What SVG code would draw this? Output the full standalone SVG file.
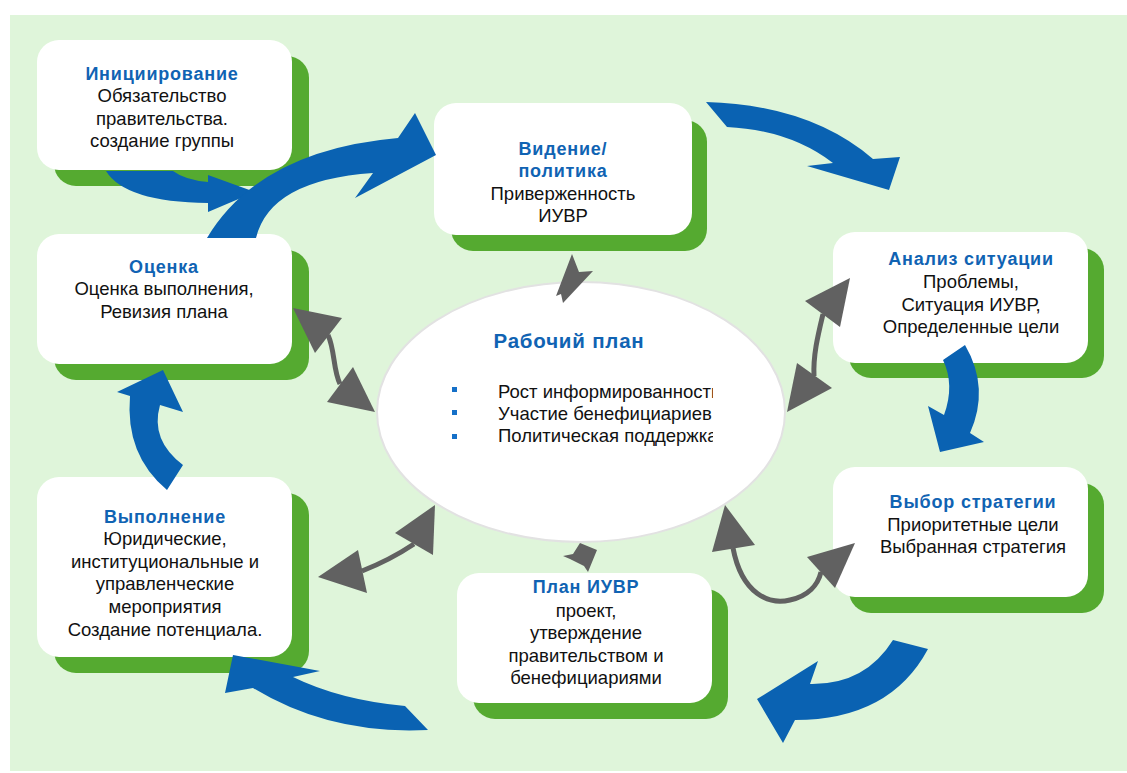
<svg xmlns="http://www.w3.org/2000/svg" width="1127" height="773" viewBox="0 0 1127 773">
<defs>
<style>
.sh{fill:#55AA30}
.bx{fill:#FFFFFF}
.t{font-family:"Liberation Sans","DejaVu Sans",sans-serif;font-size:18.5px;fill:#111111;text-anchor:middle}
.h{font-weight:bold;fill:#1063B3;letter-spacing:0.8px;font-size:18px}
.ba{fill:#0A62B2}
.gh{fill:#616161}
.gs{fill:none;stroke:#616161;stroke-width:5}
.bl{fill:#1570C8}
</style>
<clipPath id="ec"><rect x="370" y="370" width="343" height="90"/></clipPath>
</defs>
<rect x="10" y="15" width="1117" height="756" fill="#DFF5DA"/>
<g id="workplan">
<ellipse cx="581" cy="412" rx="204" ry="130" fill="#FFFFFF" stroke="#E2E2E2" stroke-width="2"/>
<text class="t h" x="569" y="348" style="font-size:20.5px">Рабочий план</text>
<rect class="bl" x="452" y="387" width="5" height="5"/>
<rect class="bl" x="452" y="410" width="5" height="5"/>
<rect class="bl" x="452" y="434" width="5" height="5"/>
<g clip-path="url(#ec)">
<text class="t" x="498" y="398" style="text-anchor:start">Рост информированности</text>
<text class="t" x="498" y="420" style="text-anchor:start">Участие бенефициариев</text>
<text class="t" x="498" y="442" style="text-anchor:start">Политическая поддержка</text>
</g>
</g>
<g id="init">
<rect class="sh" x="54" y="56" width="255" height="130" rx="22"/>
<rect class="bx" x="37" y="40" width="255" height="130" rx="22"/>
<text class="t h" x="162" y="80">Инициирование</text>
<text class="t" x="162" y="102">Обязательство</text>
<text class="t" x="162" y="125">правительства.</text>
<text class="t" x="162" y="147">создание группы</text>
</g>
<g id="vision">
<rect class="sh" x="451" y="120" width="256" height="131" rx="22"/>
<rect class="bx" x="434" y="103" width="258" height="132" rx="22"/>
<text class="t h" x="563" y="155">Видение/</text>
<text class="t h" x="563" y="177">политика</text>
<text class="t" x="563" y="200">Приверженность</text>
<text class="t" x="563" y="222">ИУВР</text>
</g>
<g id="analysis">
<rect class="sh" x="849" y="248" width="255" height="130" rx="22"/>
<rect class="bx" x="833" y="232" width="255" height="131" rx="22"/>
<text class="t h" x="971" y="265">Анализ ситуации</text>
<text class="t" x="971" y="288">Проблемы,</text>
<text class="t" x="971" y="311">Ситуация ИУВР,</text>
<text class="t" x="971" y="333">Определенные цели</text>
</g>
<g id="evaluation">
<rect class="sh" x="54" y="250" width="255" height="130" rx="22"/>
<rect class="bx" x="37" y="234" width="255" height="130" rx="22"/>
<text class="t h" x="164" y="273">Оценка</text>
<text class="t" x="164" y="295">Оценка выполнения,</text>
<text class="t" x="164" y="318">Ревизия плана</text>
</g>
<g id="strategy">
<rect class="sh" x="849" y="483" width="255" height="130" rx="22"/>
<rect class="bx" x="833" y="467" width="255" height="130" rx="22"/>
<text class="t h" x="973" y="508">Выбор стратегии</text>
<text class="t" x="973" y="531">Приоритетные цели</text>
<text class="t" x="973" y="553">Выбранная стратегия</text>
</g>
<g id="execution">
<rect class="sh" x="54" y="493" width="255" height="180" rx="22"/>
<rect class="bx" x="37" y="477" width="255" height="180" rx="22"/>
<text class="t h" x="165" y="523">Выполнение</text>
<text class="t" x="165" y="545">Юридические,</text>
<text class="t" x="165" y="568">институциональные и</text>
<text class="t" x="165" y="590">управленческие</text>
<text class="t" x="165" y="613">мероприятия</text>
<text class="t" x="165" y="636">Создание потенциала.</text>
</g>
<g id="iwrm-plan">
<rect class="sh" x="473" y="589" width="255" height="130" rx="22"/>
<rect class="bx" x="457" y="573" width="255" height="130" rx="22"/>
<text class="t h" x="586" y="593">План ИУВР</text>
<text class="t" x="586" y="617">проект,</text>
<text class="t" x="586" y="639">утверждение</text>
<text class="t" x="586" y="662">правительством и</text>
<text class="t" x="586" y="684">бенефициариями</text>
</g>
<g id="connectors">
<path class="ba" d="M106,171 Q125,202 208,203 L208,212 L255,192 L208,175 L208,182 Q185,180 173,171 Z"/>
<path class="ba" d="M207,238 Q260,150 398,138 L415,113 L436,155 L355,198 L373,173 Q270,180 256,238 Z"/>
<path class="ba" d="M706,102 Q810,105 873,159 L900,157 L889,190 L807,166 L833,163 Q790,130 727,127 Z"/>
<path class="ba" d="M965,345 Q990,388 970,433 L984,442 L940,452 L928,406 L944,415 Q955,385 943,360 Z"/>
<path class="ba" d="M893,640 Q865,685 810,684 L818,661 L757,699 L783,743 L795,720 Q890,720 928,649 Z"/>
<path class="ba" d="M405,706 Q340,700 293,677 L320,671 L233,655 L225,693 L253,688 Q330,735 428,730 Z"/>
<path class="ba" d="M167,490 Q125,455 130,396 L117,392 L163,370 L183,412 L160,405 Q150,440 183,465 Z"/>
<polygon class="gh" points="572,254 579,272 593,271 563,303 561,294 556,296"/>
<path class="gs" d="M823,314 C818,335 813,355 814,376"/>
<polygon class="gh" points="850,278 805,301 840,327"/>
<polygon class="gh" points="797,363 832,388 787,412"/>
<path class="gs" d="M328,335 C335,350 333,370 340,384"/>
<polygon class="gh" points="293,308 342,318 315,353"/>
<polygon class="gh" points="353,367 375,412 327,402"/>
<path class="gs" d="M362,571 Q390,560 414,544"/>
<polygon class="gh" points="318,577 358,550 367,593"/>
<polygon class="gh" points="435,505 433,555 395,533"/>
<polygon class="gh" points="580,543 597,550 588,572 584,566 570,559 563,556 573,554"/>
<path class="gs" d="M733,548 C742,595 770,605 790,600 C808,596 818,585 821,572"/>
<polygon class="gh" points="725,505 755,545 712,552"/>
<polygon class="gh" points="855,543 835,588 807,557"/>
</g>
</svg>
